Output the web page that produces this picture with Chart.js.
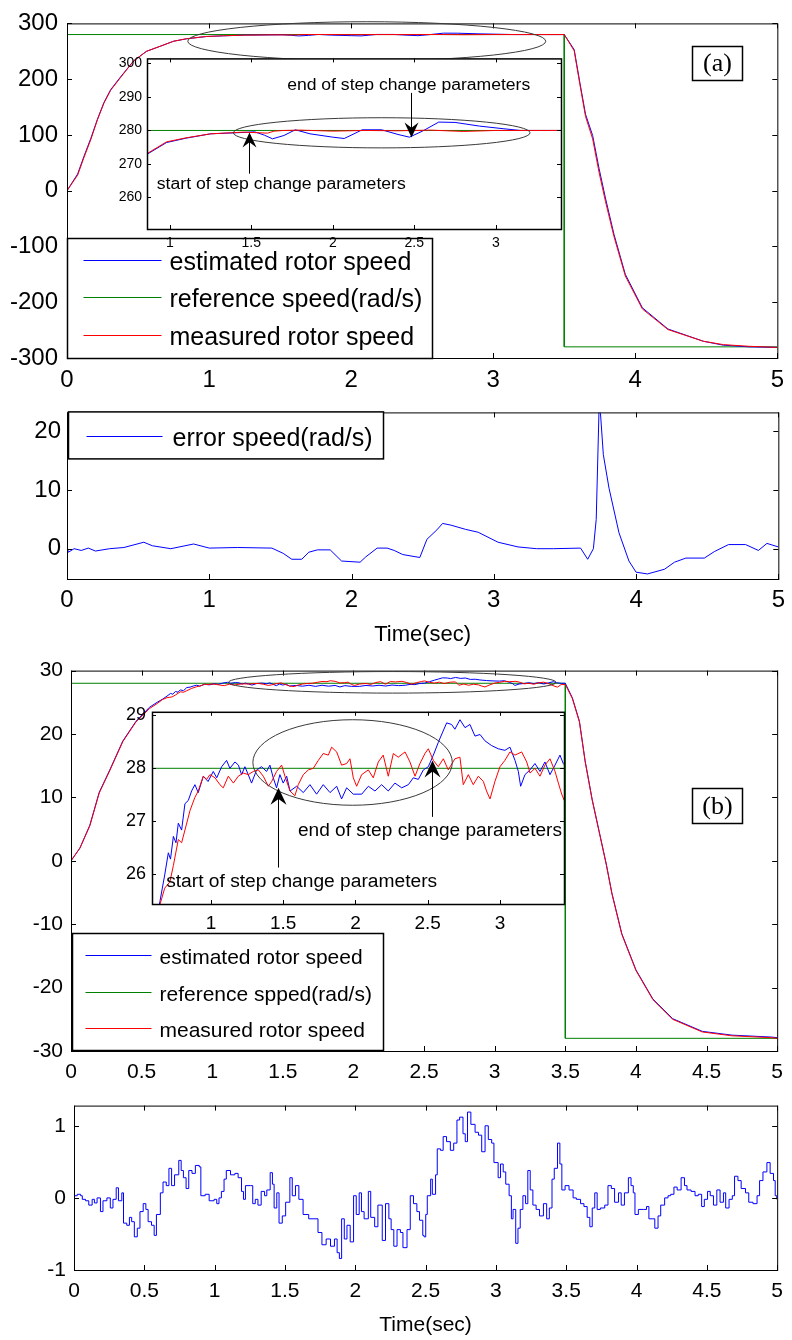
<!DOCTYPE html>
<html>
<head>
<meta charset="utf-8">
<script src="https://cdn.jsdelivr.net/npm/chart.js@4/dist/chart.umd.min.js"></script>
<style>
  body { margin: 0; background: #fff; }
  #fig { position: relative; width: 792px; height: 1340px; overflow: hidden; }
  #fig canvas { position: absolute; }
</style>
</head>
<body>
<div id="fig">
  <canvas id="cA" style="left:0;top:0" width="792" height="392"></canvas>
  <canvas id="cAin" style="left:90px;top:45px" width="480" height="215"></canvas>
  <canvas id="cE" style="left:0;top:392px" width="792" height="258"></canvas>
  <canvas id="cB" style="left:0;top:650px" width="792" height="435"></canvas>
  <canvas id="cBin" style="left:100px;top:695px" width="470" height="250"></canvas>
  <canvas id="cEB" style="left:0;top:1085px" width="792" height="255"></canvas>
</div>
<script>
// ---- data, case (a): speed reference 280 rad/s ----
const tRefA = [0, 3.5, 3.5, 5];
const refA = [280, 280, -280, -280];

const tMeasA = [0,0.075,0.12,0.168,0.214,0.26,0.307,0.377,0.47,0.56,0.656,0.75,0.84,0.98,1.1,1.25,1.45,1.6,1.64,1.7,
  1.8,2.0,2.2,2.4,2.6,2.8,3.0,3.2,3.5,3.57,3.61,3.65,3.70,3.745,3.79,3.85,3.93,4.05,4.23,4.48,4.62,4.8,5.0];
const measA = [0,28,60,92,127,157,180,203,233,250,259,268,272.5,276.6,277.8,279,279.5,279.2,279.8,280,
  280.1,279.8,280,279.9,280.1,279.7,280,280,280,251,191,133,93,33,-19,-82,-153,-212,-249,-270,-276,-279,-281];

const tEstA = [0,0.075,0.12,0.168,0.214,0.26,0.307,0.377,0.47,0.56,0.656,0.75,0.84,0.98,1.1,1.25,1.45,1.52,1.58,1.63,
  1.7,1.77,1.86,2.0,2.07,2.13,2.18,2.3,2.4,2.47,2.55,2.65,2.75,2.9,3.05,3.15,3.3,3.5,3.57,3.61,
  3.65,3.70,3.745,3.79,3.85,3.93,4.05,4.23,4.48,4.62,4.8,5.0];
const estA = [0,30,62,94,128,158,181,204,233,250,259,268,272.3,276.4,277.7,279,279.4,279.6,278.6,277.5,
  278.5,280.2,279,278,277.6,279,280.2,280.2,278.8,278,279.8,282.5,282.4,281.3,280.5,280,280,280,253,194,
  137,99,40,-13,-78,-150,-210,-248,-270,-277,-280,-281];

const tErrA = [0,0.01,0.05,0.1,0.15,0.2,0.3,0.4,0.54,0.6,0.73,0.89,1.0,1.2,1.44,1.52,1.58,1.65,1.7,1.76,
  1.85,1.93,2.06,2.1,2.18,2.25,2.3,2.36,2.48,2.53,2.6,2.64,2.7,2.8,2.89,3.03,3.17,3.3,3.42,3.61,
  3.66,3.7,3.72,3.74,3.75,3.77,3.81,3.88,3.95,4.0,4.08,4.2,4.27,4.35,4.48,4.55,4.65,4.77,4.86,4.92,5.0];
const errA = [0.3,-0.6,0,-0.3,0.1,-0.4,0,0.2,1.1,0.5,0,0.8,0.1,0.2,0.1,-0.8,-1.8,-1.8,-0.6,-0.2,
  -0.2,-2.1,-2.3,-1.4,0.1,0.1,-0.3,-1,-1.5,1.6,3.2,4.3,4,3.3,2.8,1.1,0.3,0,0,0.1,
  -1.8,0,5,24,23,16,10.3,2.7,-2.1,-4,-4.3,-3.5,-2.3,-1.6,-1.6,-0.5,0.7,0.7,-0.3,0.9,0.3];

// ---- data, case (b): speed reference 28 rad/s ----
const tRefB = [0, 3.5, 3.5, 5];
const refB = [28, 28, -28, -28];

const tEstB = [0,0.063,0.133,0.2,0.274,0.367,0.46,0.555,0.61,0.647,
  0.68,0.705,0.72,0.74,0.758,0.774,0.797,0.82,0.843,0.866,
  0.889,0.912,0.947,0.98,1.016,1.04,1.074,1.108,1.131,1.166,
  1.19,1.212,1.235,1.258,1.281,1.316,1.35,1.385,1.408,1.431,
  1.454,1.477,1.5,1.524,1.547,1.593,1.639,1.685,1.731,1.777,
  1.824,1.87,1.904,1.939,1.985,2.043,2.089,2.135,2.181,2.227,
  2.273,2.32,2.366,2.4,2.435,2.47,2.504,2.539,2.573,2.601,
  2.631,2.665,2.688,2.723,2.758,2.792,2.827,2.862,2.896,2.942,
  2.988,3.034,3.069,3.104,3.127,3.143,3.173,3.208,3.242,3.277,
  3.311,3.346,3.381,3.415,3.438,3.47,3.5,3.55,3.6,3.64,
  3.69,3.74,3.79,3.83,3.9,4.0,4.12,4.26,4.47,4.68,4.96,5.0];
const estB = [0,2.0,5.6,10.8,14.3,18.9,22,24.2,25.0,25.48,
  25.98,26.4,26.28,26.71,26.59,26.96,26.83,27.33,27.39,27.57,
  27.69,27.54,27.85,27.75,27.94,27.82,28.03,28.15,28.0,28.12,
  28.06,27.88,28.03,27.88,27.72,27.97,28.03,27.94,28.06,27.82,
  27.63,27.88,27.72,27.85,27.57,27.66,27.54,27.69,27.51,27.69,
  27.54,27.66,27.42,27.63,27.51,27.51,27.66,27.57,27.69,27.57,
  27.72,27.63,27.69,27.82,27.79,27.97,28.03,28.25,28.49,28.67,
  28.86,28.83,28.74,28.92,28.77,28.83,28.61,28.64,28.52,28.43,
  28.37,28.34,28.4,28.15,27.94,27.66,27.88,27.97,28.09,27.94,
  28.12,27.88,28.06,28.25,28.09,28.0,28.0,25.7,22,15.8,
  9.7,4.6,-0.5,-5.1,-11.5,-17.2,-21.8,-24.9,-26.9,-27.5,-27.8,-27.9];

const tMeasB = [0,0.063,0.133,0.2,0.274,0.367,0.46,0.555,0.61,0.647,
  0.68,0.716,0.74,0.774,0.797,0.82,0.855,0.889,0.912,0.947,
  0.97,0.993,1.028,1.062,1.085,1.12,1.155,1.189,1.224,1.258,
  1.293,1.328,1.362,1.397,1.42,1.454,1.489,1.512,1.547,1.581,
  1.604,1.639,1.674,1.708,1.743,1.777,1.812,1.835,1.87,1.904,
  1.939,1.962,1.985,2.008,2.043,2.089,2.123,2.158,2.192,2.227,
  2.262,2.296,2.343,2.377,2.412,2.446,2.481,2.504,2.539,2.573,
  2.608,2.642,2.688,2.723,2.746,2.781,2.815,2.85,2.885,2.907,
  2.931,2.965,3.0,3.034,3.069,3.104,3.15,3.185,3.208,3.242,
  3.277,3.311,3.346,3.381,3.404,3.427,3.445,3.47,3.5,3.55,
  3.6,3.64,3.69,3.74,3.79,3.83,3.9,4.0,4.12,4.26,4.47,4.68,4.96,5.0];
const measB = [0,2.0,5.5,10.7,14.2,18.8,21.9,24.0,24.8,25.42,
  25.73,25.85,26.16,26.65,26.59,26.83,27.2,27.45,27.57,27.85,
  27.79,27.88,27.82,27.69,27.63,27.85,27.72,27.85,27.91,27.88,
  27.94,27.97,27.85,27.66,27.75,27.94,28.06,27.85,27.57,27.48,
  27.69,27.88,27.97,28.0,28.15,28.28,28.25,28.4,28.31,28.06,
  28.09,28.18,27.82,27.66,27.88,27.97,27.82,28.12,28.25,27.85,
  28.28,28.21,28.31,28.12,27.85,28.09,28.28,28.37,28.15,28.03,
  28.18,27.97,28.18,28.21,27.69,27.88,27.69,27.85,27.75,27.57,
  27.42,27.75,28.03,28.15,28.31,28.25,28.31,28.12,27.91,28.0,
  27.85,28.06,28.18,27.94,27.72,27.51,27.39,27.8,27.8,25.6,
  21.9,15.7,9.6,4.5,-0.6,-5.2,-11.6,-17.3,-21.9,-25.0,-27.0,-27.6,-27.9,-28.0];

const tErrB = [0,0.023,0.047,0.059,0.082,0.105,0.129,0.145,0.164,0.188,
  0.206,0.234,0.258,0.277,0.3,0.316,0.34,0.352,0.375,0.394,
  0.41,0.429,0.45,0.469,0.492,0.511,0.527,0.551,0.57,0.586,
  0.614,0.633,0.656,0.675,0.694,0.715,0.745,0.762,0.778,0.797,
  0.816,0.839,0.863,0.891,0.902,0.933,0.961,0.996,1.015,1.031,
  1.048,1.067,1.083,1.113,1.144,1.167,1.191,1.205,1.219,1.254,
  1.271,1.289,1.308,1.331,1.355,1.371,1.395,1.411,1.423,1.442,
  1.458,1.481,1.505,1.535,1.552,1.575,1.599,1.629,1.669,1.707,
  1.735,1.763,1.793,1.824,1.852,1.871,1.887,1.903,1.922,1.941,
  1.964,1.988,2.007,2.028,2.044,2.063,2.093,2.11,2.138,2.161,
  2.192,2.215,2.239,2.255,2.274,2.297,2.321,2.339,2.368,2.391,
  2.414,2.438,2.457,2.48,2.489,2.501,2.512,2.536,2.548,2.571,
  2.583,2.606,2.625,2.649,2.676,2.7,2.723,2.742,2.766,2.782,
  2.798,2.822,2.852,2.876,2.899,2.923,2.946,2.97,2.986,3.016,
  3.033,3.052,3.07,3.094,3.11,3.122,3.141,3.157,3.173,3.192,
  3.211,3.227,3.244,3.263,3.286,3.31,3.338,3.361,3.38,3.399,
  3.415,3.438,3.455,3.469,3.492,3.52,3.549,3.572,3.602,3.626,
  3.649,3.668,3.685,3.703,3.72,3.743,3.774,3.797,3.821,3.844,
  3.872,3.891,3.914,3.942,3.961,3.977,3.989,4.013,4.048,4.071,
  4.088,4.111,4.13,4.153,4.172,4.2,4.224,4.243,4.266,4.289,
  4.317,4.341,4.359,4.388,4.416,4.439,4.463,4.482,4.505,4.524,
  4.547,4.571,4.594,4.618,4.634,4.658,4.681,4.697,4.721,4.744,
  4.775,4.798,4.828,4.857,4.875,4.899,4.927,4.95,4.974,4.986,
  4.997];
const errB = [0.03,0.05,0.03,-0.02,-0.04,-0.1,-0.02,-0.07,0,-0.19,
  -0.04,0,-0.14,-0.02,0.14,-0.04,0.07,-0.35,-0.38,-0.27,
  -0.33,-0.54,-0.42,-0.19,-0.08,-0.16,-0.33,-0.38,-0.52,-0.23,
  0.07,0.22,0.17,0.41,0.17,0.32,0.52,0.38,0.28,0.13,
  0.38,0.34,0.45,0.43,0.03,0.05,-0.04,-0.02,-0.08,0,
  0.09,0.26,0.38,0.32,0.34,0.28,0.09,-0.02,0.17,0.17,
  -0.08,-0.02,-0.1,0.09,0.03,0.11,0.35,0.19,-0.14,0.07,
  -0.35,-0.25,-0.06,0.28,0.03,0.17,-0.02,-0.23,-0.29,-0.29,
  -0.48,-0.65,-0.57,-0.67,-0.57,-0.76,-0.84,-0.29,-0.57,-0.38,
  -0.61,0.03,-0.23,0.07,-0.19,-0.29,0.09,-0.27,-0.4,-0.1,
  -0.59,-0.08,-0.29,-0.44,-0.67,-0.44,-0.48,-0.69,-0.44,0.03,
  -0.08,-0.19,-0.31,-0.52,-0.54,-0.23,0.03,0.26,0.05,0.32,
  0.68,0.66,0.85,0.78,0.66,0.76,1.08,1.12,0.89,0.78,
  1.19,1.02,0.91,0.87,0.64,1.0,0.81,0.76,0.49,0.28,
  0.47,0.36,0.19,0.03,-0.29,-0.16,-0.63,-0.42,-0.16,0.03,
  -0.08,0.38,0.11,-0.1,-0.16,-0.25,-0.08,-0.29,-0.14,0.26,
  0.41,0.76,0.47,0.11,0.17,0.11,0,-0.02,-0.08,-0.12,
  -0.27,-0.4,-0.14,0.07,-0.16,-0.14,-0.1,0.17,0.13,-0.06,
  0.07,-0.1,0.07,0.28,0.17,0.07,-0.23,-0.16,-0.16,-0.12,
  -0.29,-0.29,-0.42,-0.25,-0.1,0,0.03,0.05,0.15,0.11,
  0.28,0.17,0.11,0.09,0.03,0.05,-0.12,-0.02,0.09,0.03,
  -0.1,0.11,-0.06,0.07,-0.14,-0.02,0.03,0.3,0.24,0.13,
  0.07,-0.06,-0.08,0.03,0.24,0.36,0.49,0.34,0.24,0.03,
  -0.02];

// ---- tick labels ----
const xTicksInt = [0, 1, 2, 3, 4, 5];
const xTicksHalf = [0, 0.5, 1, 1.5, 2, 2.5, 3, 3.5, 4, 4.5, 5];
const insetXTicks = [1, 1.5, 2, 2.5, 3];
const yTicksA = [-300, -200, -100, 0, 100, 200, 300];
const yTicksAin = [260, 270, 280, 290, 300];
const yTicksErrA = [0, 10, 20];
const yTicksB = [-30, -20, -10, 0, 10, 20, 30];
const yTicksBin = [26, 27, 28, 29];
const yTicksErrB = [-1, 0, 1];

const legendA = ['estimated rotor speed', 'reference speed(rad/s)', 'measured rotor speed'];
const legendB = ['estimated rotor speed', 'reference spped(rad/s)', 'measured rotor speed'];

//------------------------------------------

const BLUE = '#0000ff', GREEN = '#008000', RED = '#ff0000';
const SANS = '"Liberation Sans", Arial, sans-serif';
const SERIF = '"Liberation Serif", "Times New Roman", serif';

const pts = (ts, vs) => ts.map((t, i) => ({x: t, y: vs[i]}));
const line = (label, ts, vs, color, order, stepped) => ({
  label, data: pts(ts, vs), borderColor: color, backgroundColor: color,
  borderWidth: 1, pointRadius: 0, tension: 0, fill: false, order, stepped: !!stepped
});

function axis(a, isX) {
  return {
    type: 'linear', position: isX ? 'bottom' : 'left',
    min: a.min, max: a.max,
    grid: {display: false, drawTicks: false},
    border: {display: false},
    afterBuildTicks: s => { s.ticks = a.ticks.map(v => ({value: v})); },
    afterFit: s => { if (isX) s.height = a.fit; else s.width = a.fit; },
    ticks: {font: {size: a.size, family: SANS}, color: '#000', padding: a.pad,
      autoSkip: false, maxRotation: 0, callback: v => String(v)},
    title: a.title
      ? {display: true, text: a.title, color: '#000', font: {size: a.tsize, family: SANS}, padding: {top: 0, bottom: a.tpad}}
      : {display: false}
  };
}

// box + inward tick marks, white plot area for the insets
const frame = (tick, lw, white) => ({
  id: 'frame',
  beforeDraw(chart) {
    if (!white) return;
    const {ctx, chartArea: c} = chart;
    ctx.save();
    ctx.fillStyle = '#fff';
    ctx.fillRect(c.left, c.top, c.right - c.left, c.bottom - c.top);
    ctx.restore();
  },
  afterDatasetsDraw(chart) {
    const {ctx, chartArea: c, scales: {x, y}} = chart;
    ctx.save();
    ctx.strokeStyle = '#000';
    ctx.lineWidth = lw;
    ctx.strokeRect(c.left + 0.5, c.top + 0.5, c.right - c.left, c.bottom - c.top);
    ctx.lineWidth = 1;
    ctx.beginPath();
    x.ticks.forEach(t => {
      const p = Math.round(x.getPixelForValue(t.value)) + 0.5;
      ctx.moveTo(p, c.bottom); ctx.lineTo(p, c.bottom - tick);
      ctx.moveTo(p, c.top); ctx.lineTo(p, c.top + tick);
    });
    y.ticks.forEach(t => {
      const p = Math.round(y.getPixelForValue(t.value)) + 0.5;
      ctx.moveTo(c.left, p); ctx.lineTo(c.left + tick, p);
      ctx.moveTo(c.right, p); ctx.lineTo(c.right - tick, p);
    });
    ctx.stroke();
    ctx.restore();
  }
});

// ellipses, arrows, notes, (a)/(b) tag and the boxed legend
const deco = sp => ({
  id: 'deco',
  afterDraw(chart) {
    const {ctx, chartArea: ca, scales: {x, y}} = chart;
    const X = v => x.getPixelForValue(v), Y = v => y.getPixelForValue(v);
    ctx.save();
    (sp.ellipses || []).forEach(e => {
      ctx.beginPath();
      ctx.ellipse(X(e.t), Y(e.v), Math.abs(X(e.t + e.dt) - X(e.t)), Math.abs(Y(e.v + e.dv) - Y(e.v)), 0, 0, 2 * Math.PI);
      ctx.strokeStyle = '#3a3a3a';
      ctx.lineWidth = 1;
      ctx.stroke();
    });
    (sp.arrows || []).forEach(a => {
      const px = Math.round(X(a.t)) + 0.5, y0 = Y(a.from), y1 = Y(a.to);
      const dir = Math.sign(y1 - y0);
      ctx.strokeStyle = '#000';
      ctx.lineWidth = 1;
      ctx.beginPath();
      ctx.moveTo(px, y0);
      ctx.lineTo(px, y1 - dir * a.len * 0.6);
      ctx.stroke();
      ctx.beginPath();
      ctx.moveTo(px, y1);
      ctx.lineTo(px - a.w / 2, y1 - dir * a.len);
      ctx.lineTo(px, y1 - dir * a.len * 0.65);
      ctx.lineTo(px + a.w / 2, y1 - dir * a.len);
      ctx.closePath();
      ctx.fillStyle = '#000';
      ctx.fill();
    });
    (sp.notes || []).forEach(n => {
      ctx.font = n.size + 'px ' + SANS;
      ctx.fillStyle = '#000';
      ctx.textAlign = 'left';
      ctx.textBaseline = 'middle';
      const w = ctx.measureText(n.text).width;
      ctx.save();
      ctx.translate(X(n.t), Y(n.v));
      ctx.scale(n.width / w, 1);
      ctx.fillText(n.text, 0, 0);
      ctx.restore();
    });
    if (sp.tag) {
      const g = sp.tag, bx = Math.round(X(g.t)) + 0.5, by = Math.round(Y(g.v)) + 0.5;
      ctx.strokeStyle = '#000';
      ctx.lineWidth = 1.5;
      ctx.strokeRect(bx, by, g.w, g.h);
      ctx.font = g.size + 'px ' + SERIF;
      ctx.fillStyle = '#000';
      ctx.textAlign = 'center';
      ctx.textBaseline = 'middle';
      ctx.fillText(g.text, bx + g.w / 2, by + g.h / 2 + 1);
    }
    if (sp.legend) {
      const L = sp.legend;
      const bx = ca.left + L.dx + 0.5, by = (L.anchor === 'bottom' ? ca.bottom : ca.top) + L.dy + 0.5;
      ctx.fillStyle = '#fff';
      ctx.fillRect(bx, by, L.w, L.h);
      ctx.strokeStyle = '#000';
      ctx.lineWidth = 1.5;
      ctx.strokeRect(bx, by, L.w, L.h);
      ctx.font = L.size + 'px ' + SANS;
      ctx.textAlign = 'left';
      ctx.textBaseline = 'middle';
      L.labels.forEach((label, i) => {
        const ry = Math.round(by + L.rows[i]) + 0.5;
        ctx.strokeStyle = L.colors[i];
        ctx.lineWidth = 1.2;
        ctx.beginPath();
        ctx.moveTo(bx + L.x0, ry);
        ctx.lineTo(bx + L.x1, ry);
        ctx.stroke();
        ctx.fillStyle = '#000';
        ctx.fillText(label, bx + L.tx, ry + 3);
      });
    }
    ctx.restore();
  }
});

function makeChart(id, datasets, o) {
  return new Chart(document.getElementById(id), {
    type: 'line',
    data: {datasets},
    options: {
      responsive: false,
      animation: false,
      events: [],
      layout: {padding: {top: o.padTop, right: o.padRight, left: 0, bottom: 0}},
      plugins: {legend: {display: false}, tooltip: {enabled: false}},
      scales: {x: axis(o.x, true), y: axis(o.y, false)}
    },
    plugins: [frame(o.tick, o.lw, o.white), deco(o.deco || {})]
  });
}

//------------------------------------------

const speedSetA = () => [
  line(legendA[0], tEstA, estA, BLUE, 1),
  line(legendA[1], tRefA, refA, GREEN, 2),
  line(legendA[2], tMeasA, measA, RED, 0)
];
const speedSetB = () => [
  line(legendB[0], tEstB, estB, BLUE, 1),
  line(legendB[1], tRefB, refB, GREEN, 2),
  line(legendB[2], tMeasB, measB, RED, 0)
];

// (a) speed
makeChart('cA', speedSetA(), {
  padTop: 15, padRight: 9, tick: 5, lw: 1,
  x: {min: 0, max: 5, ticks: xTicksInt, size: 24, pad: 8, fit: 34},
  y: {min: -300, max: 300, ticks: yTicksA, size: 24, pad: 9, fit: 67},
  deco: {
    ellipses: [{t: 2.11, v: 268, dt: 1.26, dv: 35}],
    tag: {t: 4.4, v: 260, w: 50, h: 34, text: '(a)', size: 26},
    legend: {anchor: 'bottom', dx: 0, dy: -120, w: 365, h: 120, size: 25, x0: 16, x1: 94, tx: 102,
      rows: [21, 58, 96], labels: legendA, colors: [BLUE, GREEN, RED]}
  }
});

// (a) inset
makeChart('cAin', speedSetA(), {
  padTop: 11, padRight: 9, tick: 4, lw: 1.5, white: true,
  x: {min: 0.86, max: 3.4, ticks: insetXTicks, size: 14, pad: 6, fit: 31},
  y: {min: 250.6, max: 301.5, ticks: yTicksAin, size: 14, pad: 5, fit: 57},
  deco: {
    ellipses: [{t: 2.30, v: 279.3, dt: 0.91, dv: 4.5}],
    arrows: [{t: 1.485, from: 267.1, to: 279.4, len: 15, w: 14},
             {t: 2.48, from: 291.2, to: 277.9, len: 15, w: 14}],
    notes: [{text: 'start of step change parameters', t: 0.92, v: 263.8, size: 16, width: 249},
            {text: 'end of step change parameters', t: 1.72, v: 293.5, size: 16, width: 243}]
  }
});

// (a) error
makeChart('cE', [line('error speed(rad/s)', tErrA, errA, BLUE, 0)], {
  padTop: 11, padRight: 9, tick: 5, lw: 1,
  x: {min: 0, max: 5, ticks: xTicksInt, size: 24, pad: 7, fit: 71, title: 'Time(sec)', tsize: 22, tpad: 2},
  y: {min: -5.16, max: 23.2, ticks: yTicksErrA, size: 24, pad: 6, fit: 67},
  deco: {
    legend: {anchor: 'top', dx: 1, dy: -1, w: 315, h: 47, size: 25, x0: 18, x1: 94, tx: 104,
      rows: [24], labels: ['error speed(rad/s)'], colors: [BLUE]}
  }
});

// (b) speed
makeChart('cB', speedSetB(), {
  padTop: 9, padRight: 9, tick: 5, lw: 1,
  x: {min: 0, max: 5, ticks: xTicksHalf, size: 21, pad: 9, fit: 34},
  y: {min: -30, max: 30, ticks: yTicksB, size: 21, pad: 8, fit: 71},
  deco: {
    ellipses: [{t: 2.275, v: 28.15, dt: 1.16, dv: 1.7}],
    tag: {t: 4.4, v: 11.5, w: 50, h: 35, text: '(b)', size: 26},
    legend: {anchor: 'bottom', dx: 1, dy: -118, w: 311, h: 117, size: 21, x0: 13, x1: 79, tx: 87,
      rows: [21, 58, 94], labels: legendB, colors: [BLUE, GREEN, RED]}
  }
});

// (b) inset
makeChart('cBin', speedSetB(), {
  padTop: 11, padRight: 6, tick: 4, lw: 1.5, white: true,
  x: {min: 0.592, max: 3.443, ticks: insetXTicks, size: 19, pad: 8, fit: 41},
  y: {min: 25.43, max: 29.07, ticks: yTicksBin, size: 18, pad: 6, fit: 52},
  deco: {
    ellipses: [{t: 1.98, v: 28.11, dt: 0.69, dv: 0.81}],
    arrows: [{t: 1.464, from: 26.12, to: 27.63, len: 17, w: 16},
             {t: 2.53, from: 27.08, to: 28.15, len: 17, w: 16}],
    notes: [{text: 'start of step change parameters', t: 0.69, v: 25.85, size: 18, width: 271},
            {text: 'end of step change parameters', t: 1.602, v: 26.82, size: 18, width: 264}]
  }
});

// (b) error
makeChart('cEB', [line('error speed', tErrB, errB, BLUE, 0, true)], {
  padTop: 5, padRight: 7, tick: 5, lw: 1,
  x: {min: 0, max: 5, ticks: xTicksHalf, size: 21, pad: 9, fit: 70, title: 'Time(sec)', tsize: 21, tpad: 2},
  y: {min: -1, max: 1.28, ticks: yTicksErrB, size: 21, pad: 8, fit: 74}
});
</script>
</body>
</html>
